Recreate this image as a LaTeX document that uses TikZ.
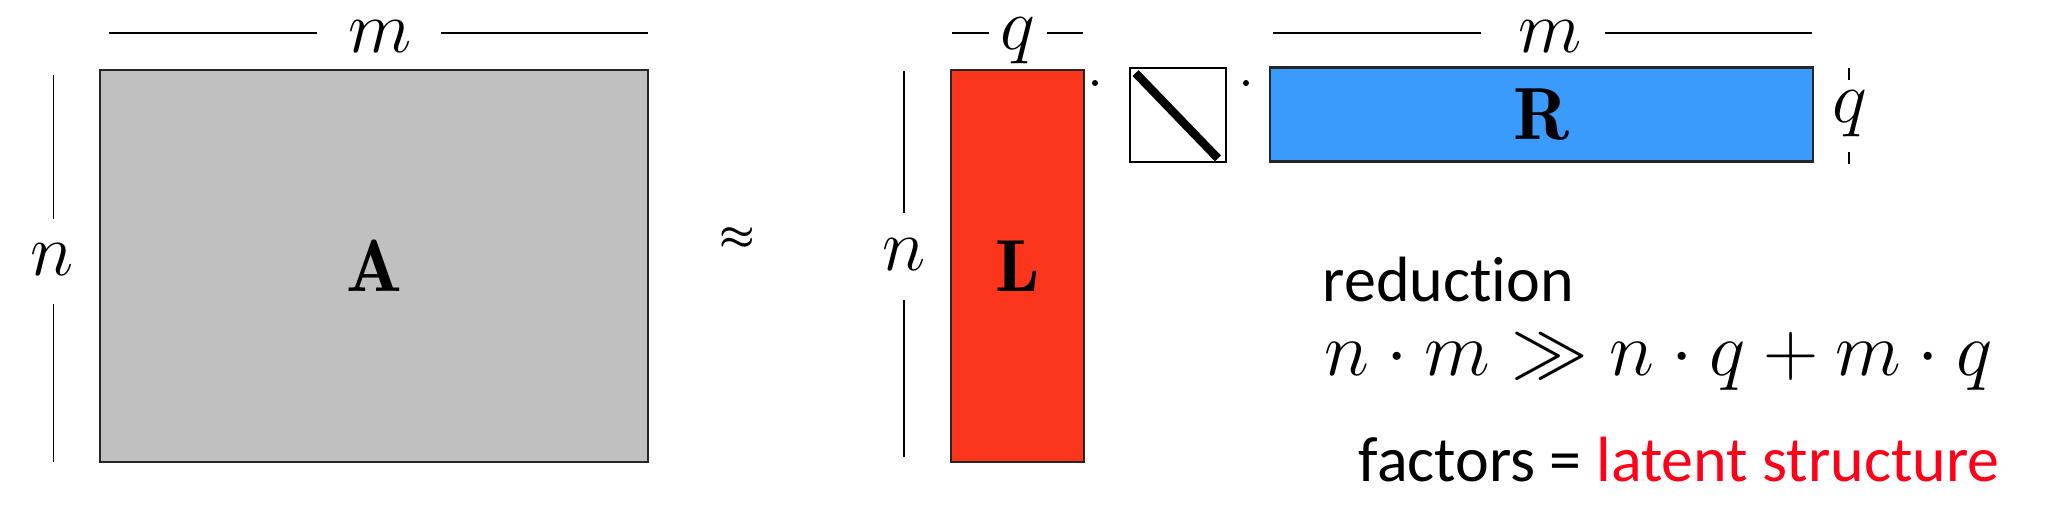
\RequirePackage{fix-cm}
\documentclass[tikz,border=0pt]{standalone}
\usepackage{amsmath}
\usepackage{fontspec}
\newfontfamily\carlito[Ligatures={NoCommon}]{Carlito}
\definecolor{matgray}{RGB}{192,192,192}
\definecolor{matred}{RGB}{252,54,29}
\definecolor{matblue}{RGB}{58,155,252}
\definecolor{txtred}{RGB}{255,0,25}
\begin{document}
\begin{tikzpicture}[x=0.01cm,y=-0.01cm,
  mat/.style={draw=black!85,line width=0.7pt,inner sep=0pt,font=\fontsize{21}{25}\selectfont},
  dimline/.style={line width=0.55pt},
  lbl/.style={inner sep=0pt,anchor=base,font=\fontsize{21}{25}\selectfont},
  sans/.style={inner sep=0pt,anchor=base west,font=\carlito\fontsize{18.2}{21}\selectfont},
  dotn/.style={circle,fill=black,inner sep=0pt,minimum size=0.06cm}]
\useasboundingbox (0,0) rectangle (2054,530);
\fill[white] (0,0) rectangle (2054,530);

% matrices
\node[mat,fill=matgray,minimum width=5.48cm,minimum height=3.92cm] (A) at (374,266) {$\mathbf{A}$};
\node[mat,fill=matred,minimum width=1.33cm,minimum height=3.92cm] (L) at (1017.5,266) {$\mathbf{L}$};
\node[draw=black,line width=0.5pt,minimum width=0.96cm,minimum height=0.94cm,inner sep=0pt] (D) at (1178,115) {};
\draw[line width=2.4pt] ([shift={(6.5,6)}]D.north west) -- ([shift={(-9,-4.5)}]D.south east);
\node[mat,fill=matblue,minimum width=5.43cm,minimum height=0.94cm] (R) at (1541.5,114.5) {$\mathbf{R}$};

% products
\node[dotn] (d1) at (1095,83) {};
\node[dotn] (d2) at (1246,83) {};
\node[inner sep=0pt,font=\fontsize{11.3}{13}\selectfont] (apx) at (737,239) {$\boldsymbol{\approx}$};

% dimension labels
\node[lbl] (mA) at (380,52) {$m$};
\node[lbl] (nA) at (52,275) {$n$};
\node[lbl] (qL) at (1018,49) {$q$};
\node[lbl] (nL) at (904,270) {$n$};
\node[lbl] (mR) at (1550,52) {$m$};
\node[lbl] (qR) at (1850,122) {$q$};

% dimension lines
\draw[dimline] (109,33) -- (317,33);
\draw[dimline] (441,33) -- (648,33);
\draw[dimline] (53.5,75) -- (53.5,219);
\draw[dimline] (53.5,304) -- (53.5,462);
\draw[dimline] (952,33) -- (989,33);
\draw[dimline] (1047,33) -- (1083,33);
\draw[dimline] (904,71) -- (904,213);
\draw[dimline] (904,300) -- (904,457);
\draw[dimline] (1273,33) -- (1481,33);
\draw[dimline] (1605,33) -- (1812,33);
\draw[dimline] (1849,68) -- (1849,80);
\draw[dimline] (1849,152) -- (1849,164);

% text
\node[sans] (red) at (1322,301.5) {reduction};
\node[inner sep=0pt,anchor=base west,font=\fontsize{21.8}{26}\selectfont] (ineq) at (1324,375) {$n\cdot m\gg n\cdot q+m\cdot q$};
\node[sans] (fac) at (1358,481.5) {factors = \textcolor{txtred}{latent structure}};
\end{tikzpicture}
\end{document}
